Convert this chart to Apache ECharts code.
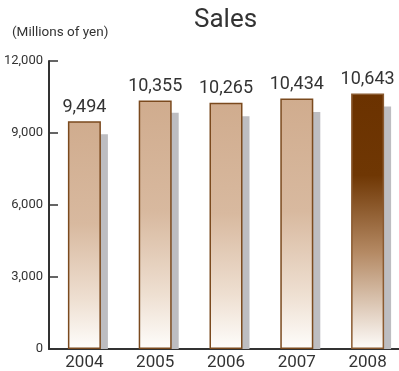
<!DOCTYPE html>
<html>
<head>
<meta charset="utf-8">
<script src="https://cdn.jsdelivr.net/npm/echarts@6/dist/echarts.min.js"></script>
<style>
  html, body { margin: 0; padding: 0; background: #fff; }
  #chart { width: 399px; height: 371px; }
</style>
</head>
<body>
<div id="chart"></div>
<script>
// 売上高（百万円）
var years = ["2004", "2005", "2006", "2007", "2008"];
var sales = [9494, 10355, 10265, 10434, 10643];
// 後ろのグレーの影（目測）
var shadowVals = [8950, 9840, 9700, 9870, 10100];
var yTicks = [0, 3000, 6000, 9000, 12000];

var FONT = "Roboto, 'DejaVu Sans Condensed', sans-serif";

function grad(stops) {
  return new echarts.graphic.LinearGradient(0, 0, 0, 1, stops);
}
var tanFill = grad([
  { offset: 0, color: "#d0ac8e" },
  { offset: 0.45, color: "#d8b99f" },
  { offset: 0.78, color: "#eedfd1" },
  { offset: 1, color: "#fefdfb" }
]);
var darkFill = grad([
  { offset: 0, color: "#6b3200" },
  { offset: 0.32, color: "#6f3704" },
  { offset: 0.62, color: "#b48963" },
  { offset: 1, color: "#fefcfa" }
]);

var mainData = sales.map(function (v, i) {
  var last = i === sales.length - 1;
  return {
    value: v,
    itemStyle: {
      color: last ? darkFill : tanFill,
      borderColor: last ? "#8a5a30" : "#7b4a1e",
      borderWidth: 1.5
    }
  };
});

var option = {
  animation: false,
  backgroundColor: "#fff",
  graphic: [
    { type: "text", left: 194, top: 7, style: { text: "Sales", font: "26px " + FONT, fill: "#333" } },
    { type: "text", left: 12, top: 26, style: { text: "(Millions of yen)", font: "13.5px " + FONT, fill: "#333" } }
  ],
  grid: [
    { left: 49, top: 61, width: 354, height: 288, outerBoundsMode: "none", containLabel: false },
    { left: 56, top: 61, width: 354, height: 288, outerBoundsMode: "none", containLabel: false }
  ],
  xAxis: [
    {
      type: "category", gridIndex: 0, data: years,
      axisLine: { lineStyle: { color: "#333", width: 2 } },
      axisTick: { inside: true, length: 8, lineStyle: { color: "#333", width: 1.5 } },
      axisLabel: { color: "#333", fontSize: 17, fontFamily: FONT, margin: 5 }
    },
    { type: "category", gridIndex: 1, data: years, show: false }
  ],
  yAxis: [
    {
      type: "value", gridIndex: 0, min: 0, max: 12000, interval: 3000,
      axisLine: { show: true, lineStyle: { color: "#333", width: 2 } },
      axisTick: { show: true, inside: true, length: 9, lineStyle: { color: "#333", width: 1.5 } },
      splitLine: { show: false },
      axisLabel: {
        color: "#333", fontSize: 13, fontFamily: FONT, margin: 6,
        formatter: function (v) { return v.toLocaleString("en-US"); }
      }
    },
    { type: "value", gridIndex: 1, min: 0, max: 12000, interval: 3000, show: false }
  ],
  series: [
    {
      name: "shadow", type: "bar", xAxisIndex: 1, yAxisIndex: 1,
      barWidth: 33, data: shadowVals, z: 1,
      itemStyle: { color: "#bdbdc1" },
      silent: true
    },
    {
      name: "Sales", type: "bar", xAxisIndex: 0, yAxisIndex: 0,
      barWidth: 33, data: mainData, z: 3,
      label: {
        show: true, position: "top", distance: 5,
        color: "#333", fontSize: 18, fontFamily: FONT,
        formatter: function (p) { return p.value.toLocaleString("en-US"); }
      }
    }
  ]
};

var chartObj = echarts.init(document.getElementById("chart"));
chartObj.setOption(option);
</script>
</body>
</html>
